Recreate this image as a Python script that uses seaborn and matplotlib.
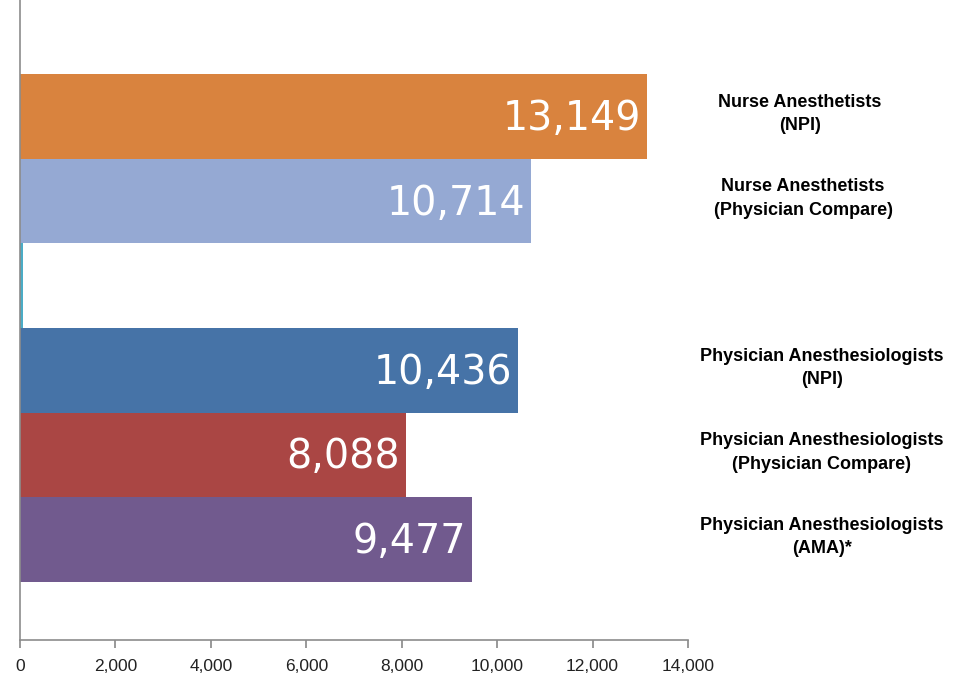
import pandas as pd
import seaborn as sns
import matplotlib.pyplot as plt
import matplotlib.transforms as mtransforms

sns.set_theme(style="white")
plt.rcParams['font.family'] = ['Liberation Sans', 'DejaVu Sans']

categories = ["Nurse Anesthetists\n(NPI)",
              "Nurse Anesthetists\n(Physician Compare)",
              " ",
              "Physician Anesthesiologists\n(NPI)",
              "Physician Anesthesiologists\n(Physician Compare)",
              "Physician Anesthesiologists\n(AMA)*"]
values = [13149, 10714, 60, 10436, 8088, 9477]
value_labels = ["13,149", "10,714", "", "10,436", "8,088", "9,477"]
colors = ["#D9833E", "#95A9D3", "#4BACC6", "#4673A7", "#AA4644", "#715A8E"]
label_x = [800, 803, 0, 822, 822, 822]
ticks = [0, 2000, 4000, 6000, 8000, 10000, 12000, 14000]

df = pd.DataFrame({"cat": categories, "val": values})

fig = plt.figure(figsize=(9.6, 6.85), dpi=100)
ax = fig.add_axes([20 / 960, 1 - 640 / 685, 668 / 960, 640 / 685])

sns.barplot(data=df, x="val", y="cat", hue="cat", order=categories,
            palette=colors, orient="h", width=1.0, legend=False,
            saturation=1, linewidth=0, ax=ax)

ax.set_xlim(0, 14000)
ax.set_ylim(6.19, -1.38)
ax.set_xticks(ticks)
ax.set_xticklabels([f"{t:,}" for t in ticks], fontsize=12.5, color="#222222")
ax.set_yticks([])
ax.set_xlabel("")
ax.set_ylabel("")
for s in ["top", "right"]:
    ax.spines[s].set_visible(False)
for s in ["left", "bottom"]:
    ax.spines[s].set_color("#8c8c8c")
    ax.spines[s].set_linewidth(1.2)
ax.tick_params(axis="x", direction="out", length=6, color="#8c8c8c",
               bottom=True, pad=8)

# value labels inside bars
for i, (v, lab) in enumerate(zip(values, value_labels)):
    if lab:
        ax.text(v - 130, i + 0.03, lab, ha="right", va="center",
                color="white", fontsize=28.5, family="DejaVu Sans")

# category labels on the right
trans = mtransforms.blended_transform_factory(
    mtransforms.IdentityTransform(), ax.transData)
for i, (c, x) in enumerate(zip(categories, label_x)):
    if c.strip():
        ax.text(x, i - 0.03, c, ha="center", va="center", fontsize=13,
                fontweight="bold", color="black", transform=trans,
                linespacing=1.5, clip_on=False)

fig.savefig("out.png", dpi=100)
